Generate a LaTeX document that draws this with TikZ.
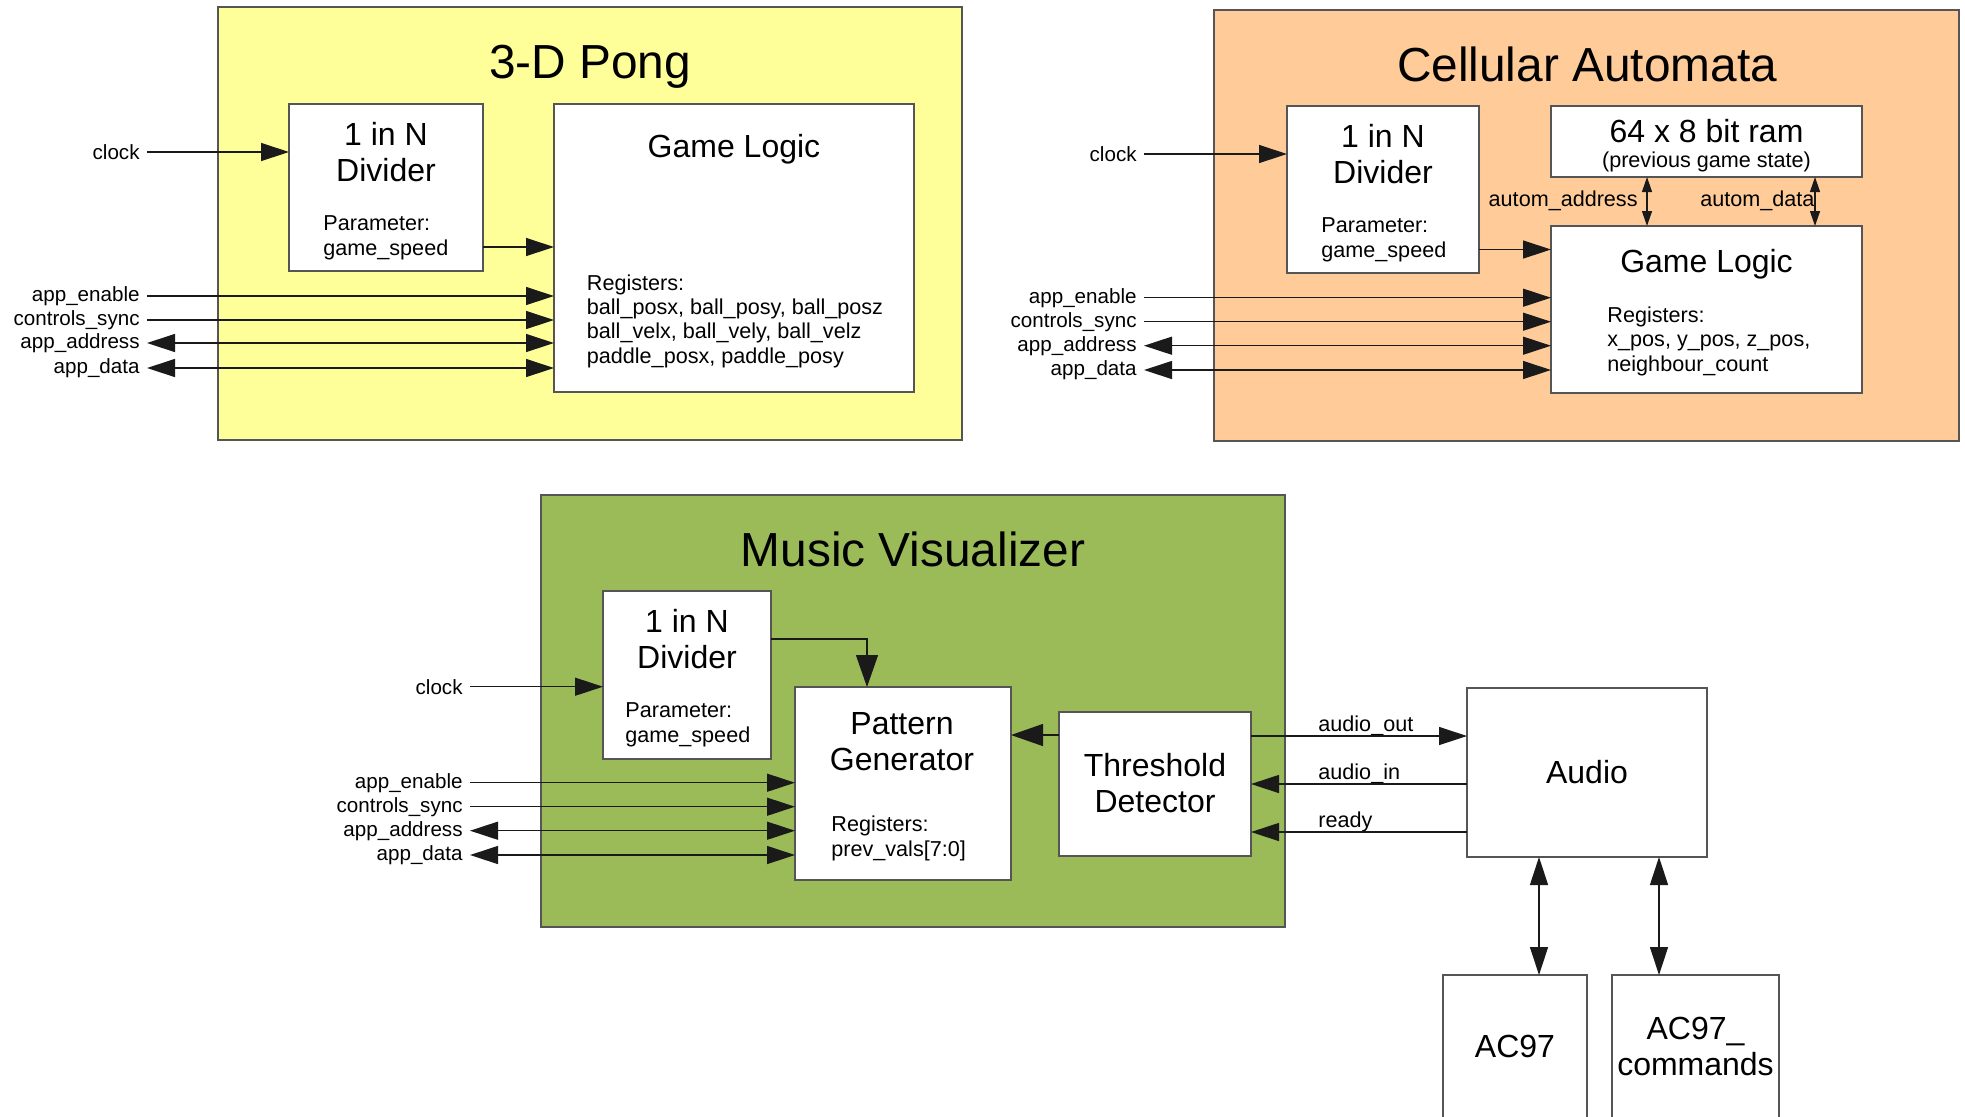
\documentclass[tikz,border=0pt]{standalone}
\usepackage{fontspec}
\setmainfont{Liberation Sans}
\usetikzlibrary{arrows.meta,positioning}
\definecolor{ink}{HTML}{1A1A1A}
\definecolor{edge}{HTML}{555555}
\definecolor{pongfill}{HTML}{FFFF99}
\definecolor{cellfill}{HTML}{FFCC99}
\definecolor{musicfill}{HTML}{9BBB59}
\tikzset{
  >={Triangle[length=14pt,width=9pt]},
  group/.style={draw=edge,line width=.75pt,inner sep=0pt,outer sep=0pt},
  block/.style={draw=edge,fill=white,line width=.65pt,inner sep=0pt,outer sep=0pt},
  headtxt/.style={font=\fontsize{23.9}{28}\selectfont,anchor=base,inner sep=0pt},
  bigtxt/.style={font=\fontsize{16}{18}\selectfont,align=center,anchor=base,inner sep=0pt},
  smalltxt/.style={font=\fontsize{10.8}{12.1}\selectfont,align=left,anchor=base west,inner sep=0pt},
  lbl/.style={font=\fontsize{10.3}{12}\selectfont,anchor=east,inner xsep=3.5pt,inner ysep=0pt},
  sig/.style={line width=.65pt,color=ink},
  bigsig/.style={sig,-{Triangle[length=16pt,width=11pt]}},
  tinybus/.style={sig,{Triangle[length=7.5pt,width=5pt]}-{Triangle[length=7.5pt,width=5pt]}},
}
\begin{document}
\begin{tikzpicture}[x=0.5pt,y=-0.5pt]
  \useasboundingbox (0,0) rectangle (1965,1116);
  \clip (0,0) rectangle (1965,1116);

  % 3-D Pong
  \node[group,fill=pongfill,minimum width=372pt,minimum height=216.5pt] (pong) at (590,223.5) {};
  \node[headtxt] (pongttl) at (590,78) {3-D Pong};
  \node[block,minimum width=97pt,minimum height=83.5pt] (pdiv) at (386,187.5) {};
  \node[bigtxt] (pdivtxt) at (386,181) {1 in N\\Divider};
  \node[smalltxt] (pdivpar) at (323,255) {Parameter:\\game\_speed};
  \node[block,minimum width=180pt,minimum height=144pt] (pgl) at (734,248) {};
  \node[bigtxt] (pgltxt) at (734,157) {Game Logic};
  \node[smalltxt] (pglreg) at (586.5,363) {Registers:\\ball\_posx, ball\_posy, ball\_posz\\ball\_velx, ball\_vely, ball\_velz\\paddle\_posx, paddle\_posy};
  \node[lbl] (pclk) at (147,152) {clock};
  \node[lbl] (pen) at (147,296) {app\_enable};
  \node[lbl] (psync) at (147,320) {controls\_sync};
  \node[lbl] (paddr) at (147,343) {app\_address};
  \node[lbl] (pdata) at (147,368) {app\_data};
  \coordinate (pspd) at (483,247);
  \draw[sig,->] (pclk) -- (pclk -| pdiv.west);
  \draw[sig,->] (pspd) -- (pspd -| pgl.west);
  \draw[sig,->] (pen) -- (pen -| pgl.west);
  \draw[sig,->] (psync) -- (psync -| pgl.west);
  \draw[sig,<->] (paddr) -- (paddr -| pgl.west);
  \draw[sig,<->] (pdata) -- (pdata -| pgl.west);

  % Cellular Automata
  \node[group,fill=cellfill,minimum width=372.5pt,minimum height=215.5pt] (cell) at (1586.5,225.5) {};
  \node[headtxt] (cellttl) at (1587,81) {Cellular Automata};
  \node[block,minimum width=96pt,minimum height=83.5pt] (cdiv) at (1383,189.5) {};
  \node[bigtxt] (cdivtxt) at (1383,183) {1 in N\\Divider};
  \node[smalltxt] (cdivpar) at (1321,257) {Parameter:\\game\_speed};
  \node[block,minimum width=155.5pt,minimum height=35.5pt] (cram) at (1706.5,141.5) {};
  \node[bigtxt] (cramtxt) at (1706.5,142) {64 x 8 bit ram};
  \node[smalltxt,anchor=base] (cramsub) at (1706.5,167) {(previous game state)};
  \node[block,minimum width=155.5pt,minimum height=83.5pt] (cgl) at (1706.5,309.5) {};
  \node[bigtxt] (cgltxt) at (1706.5,272) {Game Logic};
  \node[smalltxt] (cglreg) at (1607,371) {Registers:\\x\_pos, y\_pos, z\_pos,\\neighbour\_count};
  \node[lbl] (cclk) at (1144,154) {clock};
  \node[lbl] (cen) at (1144,297.7) {app\_enable};
  \node[lbl] (csync) at (1144,321.7) {controls\_sync};
  \node[lbl] (caddr) at (1144,345.7) {app\_address};
  \node[lbl] (cdata) at (1144,370) {app\_data};
  \coordinate (cspd) at (1479,249.5);
  \coordinate (cramaddr) at (1647,177);
  \coordinate (cramdata) at (1815,177);
  \node[smalltxt,anchor=base east] (caddrlbl) at (1638,206) {autom\_address};
  \node[smalltxt] (cdatalbl) at (1700,206) {autom\_data};
  \draw[sig,->] (cclk) -- (cclk -| cdiv.west);
  \draw[sig,->] (cspd) -- (cspd -| cgl.west);
  \draw[sig,->] (cen) -- (cen -| cgl.west);
  \draw[sig,->] (csync) -- (csync -| cgl.west);
  \draw[sig,<->] (caddr) -- (caddr -| cgl.west);
  \draw[sig,<->] (cdata) -- (cdata -| cgl.west);
  \draw[tinybus] (cramaddr) -- (cramaddr |- cgl.north);
  \draw[tinybus] (cramdata) -- (cramdata |- cgl.north);

  % Music Visualizer
  \node[group,fill=musicfill,minimum width=372pt,minimum height=216pt] (music) at (913,711) {};
  \node[headtxt] (musicttl) at (913,566) {Music Visualizer};
  \node[block,minimum width=84pt,minimum height=84pt] (mdiv) at (687,675) {};
  \node[bigtxt] (mdivtxt) at (687,668) {1 in N\\Divider};
  \node[smalltxt] (mdivpar) at (625,742) {Parameter:\\game\_speed};
  \node[block,minimum width=108pt,minimum height=96.5pt] (mpg) at (903,783.5) {};
  \node[bigtxt] (mpgtxt) at (902,770) {Pattern\\Generator};
  \node[smalltxt] (mpgreg) at (831,856) {Registers:\\prev\_vals[7:0]};
  \node[block,minimum width=96pt,minimum height=72pt] (mthr) at (1155,784) {};
  \node[bigtxt] (mthrtxt) at (1155,812) {Threshold\\Detector};
  \node[lbl] (mclk) at (470,686.7) {clock};
  \node[lbl] (men) at (470,782.7) {app\_enable};
  \node[lbl] (msync) at (470,806.7) {controls\_sync};
  \node[lbl] (maddr) at (470,830.7) {app\_address};
  \node[lbl] (mdata) at (470,855) {app\_data};
  \coordinate (mdivout) at (771,639);
  \coordinate (mpgin) at (867,687);
  \coordinate (mthrout) at (1059,735);
  \draw[sig,->] (mclk) -- (mclk -| mdiv.west);
  \draw[bigsig] (mdivout) -| (mpgin);
  \draw[bigsig] (mthrout) -- (mthrout -| mpg.east);
  \draw[sig,->] (men) -- (men -| mpg.west);
  \draw[sig,->] (msync) -- (msync -| mpg.west);
  \draw[sig,<->] (maddr) -- (maddr -| mpg.west);
  \draw[sig,<->] (mdata) -- (mdata -| mpg.west);

  % Audio side
  \node[block,minimum width=120pt,minimum height=84.5pt] (audio) at (1587,772.5) {};
  \node[bigtxt] (audiotxt) at (1587,783) {Audio};
  \node[block,minimum width=72pt,minimum height=82.5pt] (ac97) at (1515,1057.5) {};
  \node[bigtxt] (ac97txt) at (1515,1057) {AC97};
  \node[block,minimum width=83.5pt,minimum height=82.5pt] (ac97c) at (1695.5,1057.5) {};
  \node[bigtxt] (ac97ctxt) at (1695.5,1075) {AC97\_\\commands};
  \coordinate (aout) at (1251,736);
  \coordinate (ain) at (1467,784);
  \coordinate (ardy) at (1467,832);
  \coordinate (alink) at (1539,857);
  \coordinate (clink) at (1659,857);
  \node[smalltxt] (aoutlbl) at (1318,731) {audio\_out};
  \node[smalltxt] (ainlbl) at (1318,779) {audio\_in};
  \node[smalltxt] (ardylbl) at (1318,827) {ready};
  \draw[sig,->] (aout) -- (aout -| audio.west);
  \draw[sig,->] (ain) -- (ain -| mthr.east);
  \draw[sig,->] (ardy) -- (ardy -| mthr.east);
  \draw[sig,<->] (alink) -- (alink |- ac97.north);
  \draw[sig,<->] (clink) -- (clink |- ac97c.north);
\end{tikzpicture}
\end{document}
